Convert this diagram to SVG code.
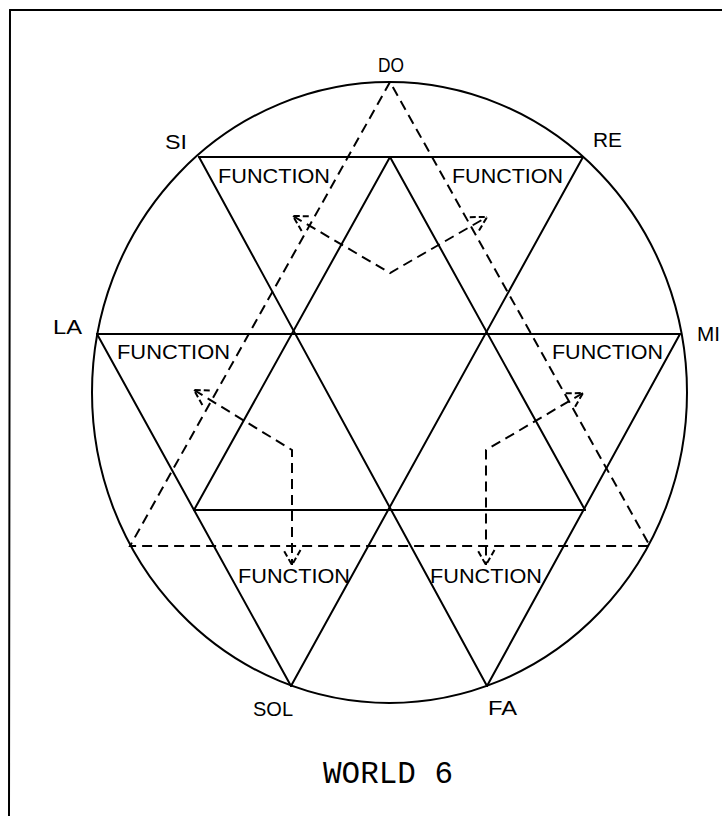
<svg xmlns="http://www.w3.org/2000/svg" width="722" height="816" viewBox="0 0 722 816">
<style>
.s{stroke:#000;stroke-width:2;fill:none;stroke-linecap:round}
.d{stroke:#000;stroke-width:2;fill:none;stroke-dasharray:10 6}
.lbl{font-family:"Liberation Sans","DejaVu Sans",sans-serif;font-size:21px;fill:#000}
.fn{font-family:"Liberation Sans","DejaVu Sans",sans-serif;font-size:21px;fill:#000}
.title{font-family:"Liberation Mono","Courier New",monospace;font-size:31px;fill:#000}
</style>
<defs>
<marker id="ah" markerUnits="userSpaceOnUse" markerWidth="40" markerHeight="40" refX="0" refY="0" viewBox="-20 -20 40 40" orient="auto-start-reverse" overflow="visible">
<path d="M -15 -8.5 L 0 0 L -15 8.5" fill="none" stroke="#000" stroke-width="2" stroke-dasharray="6 3"/>
</marker>
</defs>
<rect width="722" height="816" fill="#fff"/>
<g id="frame">
<line class="s" x1="10" y1="10" x2="722" y2="10" stroke-width="3"/>
<line class="s" x1="10" y1="10" x2="9" y2="816" stroke-width="3"/>
</g>
<g id="circle">
<ellipse class="s" cx="389.5" cy="392.5" rx="297.5" ry="310.5"/>
</g>
<g id="star">
<line class="s" x1="199" y1="157" x2="583" y2="157"/>
<line class="s" x1="97" y1="334" x2="680" y2="334"/>
<line class="s" x1="194" y1="510" x2="585" y2="510"/>
<line class="s" x1="199" y1="157" x2="487" y2="686"/>
<line class="s" x1="583" y1="157" x2="291" y2="686"/>
<line class="s" x1="97" y1="334" x2="291" y2="686"/>
<line class="s" x1="680" y1="334" x2="487" y2="686"/>
<line class="s" x1="390" y1="157" x2="194" y2="510"/>
<line class="s" x1="390" y1="157" x2="585" y2="510"/>
<polygon class="d" points="390,82 130,546 650,546"/>
</g>
<g id="connectors">
<polyline class="d" points="293,216 390,273 487,217" marker-start="url(#ah)" marker-end="url(#ah)"/>
<polyline class="d" points="194,390 292,450 292,565" marker-start="url(#ah)" marker-end="url(#ah)"/>
<polyline class="d" points="583,393 486,450 486,565" marker-start="url(#ah)" marker-end="url(#ah)"/>
</g>
<g id="notes">
<text class="lbl" x="378" y="72" textLength="26" lengthAdjust="spacingAndGlyphs">DO</text>
<text class="lbl" x="165" y="149" textLength="22" lengthAdjust="spacingAndGlyphs">SI</text>
<text class="lbl" x="593" y="147" textLength="29" lengthAdjust="spacingAndGlyphs">RE</text>
<text class="lbl" x="53" y="334" textLength="29" lengthAdjust="spacingAndGlyphs">LA</text>
<text class="lbl" x="697" y="341" textLength="23" lengthAdjust="spacingAndGlyphs">MI</text>
<text class="lbl" x="253" y="716" textLength="40" lengthAdjust="spacingAndGlyphs">SOL</text>
<text class="lbl" x="488" y="715" textLength="29" lengthAdjust="spacingAndGlyphs">FA</text>
</g>
<g id="function-si-re-left">
<text class="fn" x="218" y="183" textLength="112" lengthAdjust="spacingAndGlyphs">FUNCTION</text>
</g>
<g id="function-si-re-right">
<text class="fn" x="452" y="183" textLength="111" lengthAdjust="spacingAndGlyphs">FUNCTION</text>
</g>
<g id="function-la">
<text class="fn" x="117" y="359" textLength="113" lengthAdjust="spacingAndGlyphs">FUNCTION</text>
</g>
<g id="function-mi">
<text class="fn" x="552" y="359" textLength="111" lengthAdjust="spacingAndGlyphs">FUNCTION</text>
</g>
<g id="function-sol">
<text class="fn" x="238" y="583" textLength="112" lengthAdjust="spacingAndGlyphs">FUNCTION</text>
</g>
<g id="function-fa">
<text class="fn" x="430" y="583" textLength="112" lengthAdjust="spacingAndGlyphs">FUNCTION</text>
</g>
<g id="title">
<text class="title" x="323" y="783" textLength="130" lengthAdjust="spacingAndGlyphs">WORLD 6</text>
</g>
</svg>
